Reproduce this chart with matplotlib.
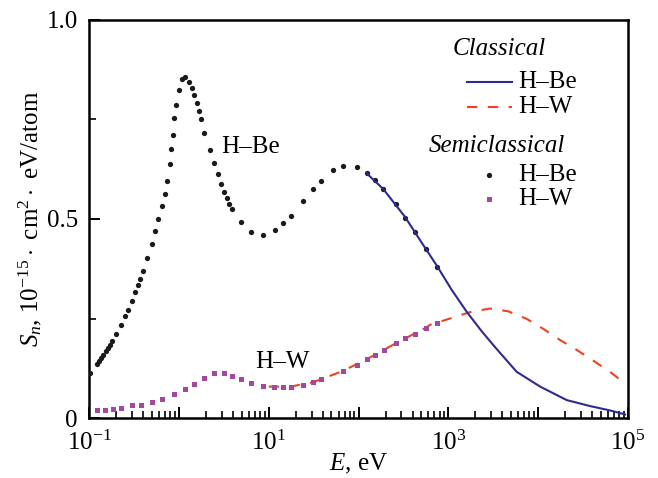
import matplotlib
matplotlib.use('Agg')
import matplotlib.pyplot as plt
from matplotlib.ticker import FixedLocator, FuncFormatter, LogLocator, NullFormatter
import numpy as np

plt.rcParams['font.family'] = 'Liberation Serif'
plt.rcParams['mathtext.fontset'] = 'custom'
plt.rcParams['mathtext.rm'] = 'Liberation Serif'
plt.rcParams['mathtext.it'] = 'Liberation Serif:italic'
plt.rcParams['font.size'] = 18

# semiclassical H-Be (dots)
semi_be_E = [0.1026, 0.122, 0.129, 0.136, 0.144, 0.153, 0.161, 0.171, 0.182, 0.200,
             0.225, 0.250, 0.274, 0.301, 0.327, 0.348, 0.372, 0.399, 0.446, 0.499,
             0.543, 0.586, 0.644, 0.696, 0.744, 0.798, 0.825, 0.855, 0.891, 0.938,
             0.997, 1.084, 1.18, 1.29, 1.39, 1.46, 1.58, 1.68, 1.78, 1.92,
             2.22, 2.46, 2.73, 2.95, 3.16, 3.41, 3.65, 3.94, 4.92, 6.36,
             8.71, 11.7, 14.4, 17.6, 24.3, 31.4, 38.5, 52.5, 66.7, 95.5,
             123, 153, 189, 262, 332, 426, 565, 754]
semi_be_S = [0.114, 0.135, 0.143, 0.152, 0.159, 0.168, 0.175, 0.184, 0.194, 0.211,
             0.234, 0.256, 0.271, 0.295, 0.316, 0.333, 0.349, 0.370, 0.403, 0.438,
             0.470, 0.499, 0.533, 0.562, 0.596, 0.637, 0.676, 0.711, 0.754, 0.787,
             0.823, 0.852, 0.856, 0.845, 0.830, 0.812, 0.791, 0.771, 0.752, 0.715,
             0.673, 0.641, 0.613, 0.589, 0.569, 0.552, 0.538, 0.524, 0.492, 0.468,
             0.461, 0.472, 0.489, 0.507, 0.544, 0.575, 0.596, 0.623, 0.633, 0.631,
             0.615, 0.598, 0.575, 0.537, 0.503, 0.467, 0.425, 0.380]

# semiclassical H-W (squares)
semi_w_E = [0.122, 0.151, 0.187, 0.225, 0.301, 0.377, 0.499, 0.644, 0.883, 1.18,
            1.48, 1.89, 2.47, 3.18, 3.91, 4.89, 6.36, 8.71, 11.6, 14.6,
            17.6, 24.3, 31.4, 38.3, 66.7, 95.5, 124, 154, 191, 262,
            332, 426, 565, 753]
semi_w_S = [0.0193, 0.0209, 0.0226, 0.0244, 0.0334, 0.0334, 0.0402, 0.0477, 0.060, 0.073,
            0.085, 0.101, 0.113, 0.113, 0.106, 0.097, 0.087, 0.080, 0.078, 0.078,
            0.079, 0.083, 0.090, 0.097, 0.118, 0.134, 0.148, 0.159, 0.171, 0.188,
            0.201, 0.212, 0.227, 0.238]

# classical H-Be (solid line)
cl_be_E = [123, 189, 330, 484, 748, 1090, 1600, 2350, 3400, 5770,
           10500, 20800, 37800, 63100, 92700]
cl_be_S = [0.615, 0.575, 0.505, 0.447, 0.382, 0.322, 0.267, 0.218, 0.175, 0.116,
           0.079, 0.045, 0.030, 0.019, 0.009]

# classical H-W (dashed line)
cl_w_E = [10, 17.6, 31.4, 66.7, 124, 262, 565, 625, 1045, 1740,
          2910, 4660, 7460, 11400, 17500, 26900, 41100, 63100, 87300, 92700]
cl_w_S = [0.079, 0.079, 0.090, 0.118, 0.148, 0.188, 0.227, 0.234, 0.250, 0.266,
          0.275, 0.268, 0.249, 0.224, 0.196, 0.171, 0.144, 0.116, 0.091, 0.088]

blue = '#2e2a8e'
red = '#f0421f'
purple = '#a3479f'

fig = plt.figure(figsize=(6.58, 4.78), dpi=100)
ax = fig.add_axes([0.1353, 0.1255, 0.8191, 0.8327])

ax.plot(semi_be_E, semi_be_S, 'o', color='#1a1a1a', ms=3.8, mew=0, zorder=3)
ax.plot(semi_w_E, semi_w_S, 's', color=purple, ms=3.6, mew=0, zorder=3)
ax.plot(cl_be_E, cl_be_S, '-', color=blue, lw=1.5, zorder=4)
ax.plot(cl_w_E, cl_w_S, '--', color=red, lw=1.5, dashes=(5, 5), zorder=2)

ax.set_xscale('log')
ax.set_xlim(0.1, 1e5)
ax.set_ylim(0, 1.0)

ax.xaxis.set_major_locator(FixedLocator([10.0 ** k for k in range(-1, 6)]))
ax.xaxis.set_major_formatter(FuncFormatter(
    lambda v, p: r'$10^{%d}$' % round(np.log10(v)) if round(np.log10(v)) % 2 else ''))
ax.xaxis.set_minor_locator(LogLocator(base=10, subs=np.arange(2, 10), numticks=20))
ax.xaxis.set_minor_formatter(NullFormatter())

ax.yaxis.set_major_locator(FixedLocator([0, 0.5, 1.0]))
ax.yaxis.set_minor_locator(FixedLocator([0.25, 0.75]))
ax.set_yticklabels(['0', '0.5', '1.0'])

ax.tick_params(which='major', direction='in', length=8, width=1.4, labelsize=18)
ax.tick_params(axis='x', which='major', pad=9)
ax.tick_params(axis='y', which='major', pad=8)
ax.tick_params(which='minor', direction='in', length=5, width=1.2)
for s in ax.spines.values():
    s.set_linewidth(1.8)

ax.set_xlabel(r'$E$, eV', fontsize=18, labelpad=-2)
ax.set_ylabel(r'$S_n$, $10^{-15}\cdot$ cm$^2\cdot$ eV/atom', fontsize=18, labelpad=2)

# in-plot labels
ax.text(0.245, 0.681, 'H–Be', transform=ax.transAxes, fontsize=18, va='center')
ax.text(0.308, 0.141, 'H–W', transform=ax.transAxes, fontsize=18, va='center')

# legend drawn by hand
ax.text(0.674, 0.928, 'Classical', transform=ax.transAxes, fontsize=18,
        style='italic', va='center')
ax.plot([0.702, 0.785], [0.845, 0.845], '-', color=blue, lw=1.5, transform=ax.transAxes)
ax.text(0.796, 0.845, 'H–Be', transform=ax.transAxes, fontsize=18, va='center')
ax.plot([0.702, 0.785], [0.782, 0.782], '--', color=red, lw=1.5, dashes=(5, 5),
        transform=ax.transAxes)
ax.text(0.796, 0.782, 'H–W', transform=ax.transAxes, fontsize=18, va='center')
ax.text(0.630, 0.683, 'Semiclassical', transform=ax.transAxes, fontsize=18,
        style='italic', va='center')
ax.plot([0.743], [0.611], 'o', color='#1a1a1a', ms=3.8, mew=0, transform=ax.transAxes)
ax.text(0.796, 0.611, 'H–Be', transform=ax.transAxes, fontsize=18, va='center')
ax.plot([0.743], [0.549], 's', color=purple, ms=3.6, mew=0, transform=ax.transAxes)
ax.text(0.796, 0.549, 'H–W', transform=ax.transAxes, fontsize=18, va='center')

fig.savefig('out.png', dpi=100)
